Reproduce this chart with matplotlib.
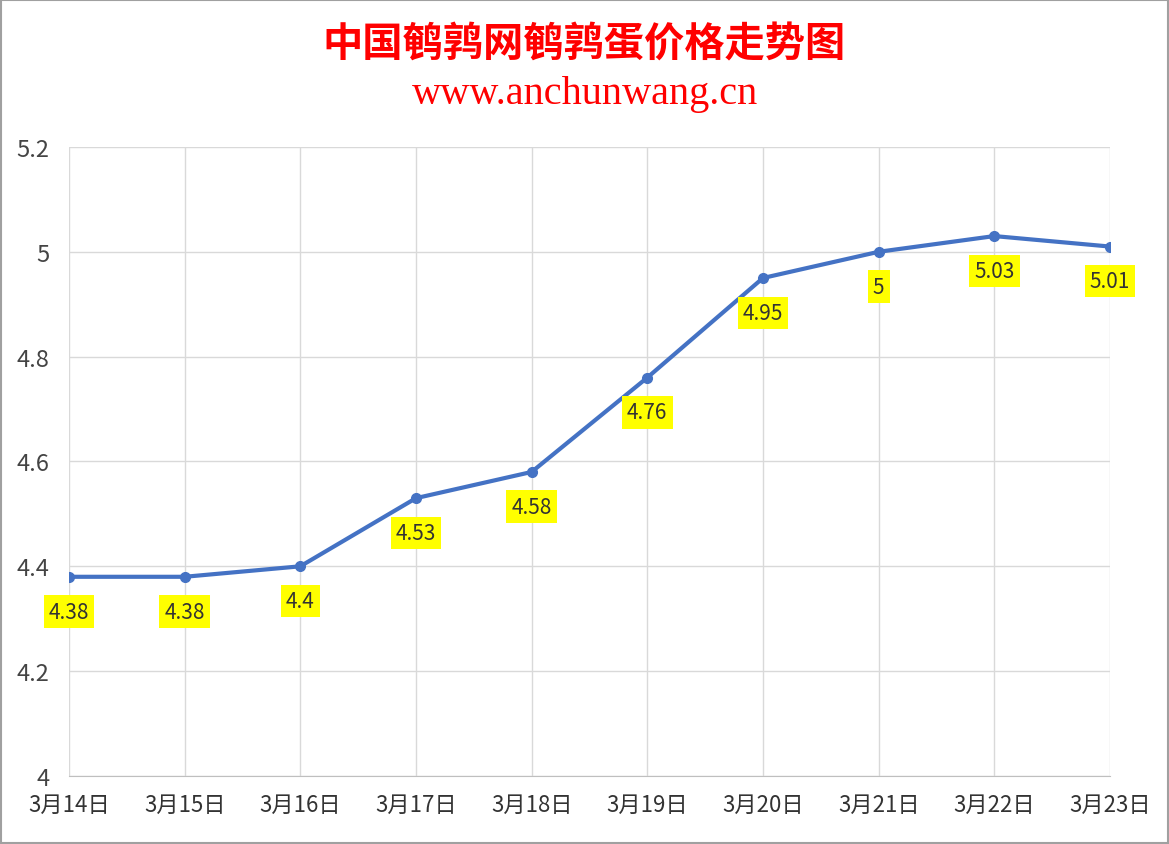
import matplotlib
matplotlib.use("Agg")
import matplotlib.pyplot as plt

dates = ["3月14日","3月15日","3月16日","3月17日","3月18日","3月19日","3月20日","3月21日","3月22日","3月23日"]
prices = [4.38, 4.38, 4.4, 4.53, 4.58, 4.76, 4.95, 5, 5.03, 5.01]
labels = ["4.38","4.38","4.4","4.53","4.58","4.76","4.95","5","5.03","5.01"]
yticks = [4, 4.2, 4.4, 4.6, 4.8, 5, 5.2]
ytlabels = ["4","4.2","4.4","4.6","4.8","5","5.2"]

plt.rcParams['font.family'] = ['Noto Sans CJK SC', 'DejaVu Sans']
fig = plt.figure(figsize=(11.69, 8.45), dpi=100)
ax = fig.add_axes([0.059, 0.0805, 0.8905, 0.7444])
x = list(range(len(dates)))
ax.plot(x, prices, color='#4472C4', lw=3, marker='o', ms=7, zorder=3)
for xi, yi, t in zip(x, prices, labels):
    ax.annotate(t, (xi, yi), xytext=(0, -25), textcoords='offset points', ha='center', va='center',
                fontsize=15, color='#333333',
                bbox=dict(boxstyle='square,pad=0.25', fc='#FFFF00', ec='none'), zorder=4)
ax.set_xlim(0, len(dates)-1)
ax.set_ylim(4, 5.2)
ax.set_xticks(x)
ax.set_xticklabels(dates, fontsize=16, color='#333333')
ax.set_yticks(yticks)
ax.set_yticklabels(ytlabels, fontsize=17, color='#444444')
ax.grid(True, color='#D9D9D9', lw=1)
for s in ax.spines.values():
    s.set_visible(False)
ax.spines['bottom'].set_visible(True)
ax.spines['bottom'].set_color('#BFBFBF')
ax.tick_params(axis='y', length=0, pad=14)
ax.tick_params(axis='x', length=0, pad=12)
fig.text(0.5, 0.947, "中国鹌鹑网鹌鹑蛋价格走势图", ha='center', va='center', fontsize=29, color='#FF0000', fontweight='bold')
fig.text(0.5, 0.888, "www.anchunwang.cn", ha='center', va='center', fontsize=29, color='#FF0000', family='Liberation Serif')
fig.patches.append(plt.Rectangle((0.001, 0.001), 0.998, 0.998, transform=fig.transFigure, fill=False, ec='#A0A0A0', lw=1.5))
fig.savefig("out.png", dpi=100)
